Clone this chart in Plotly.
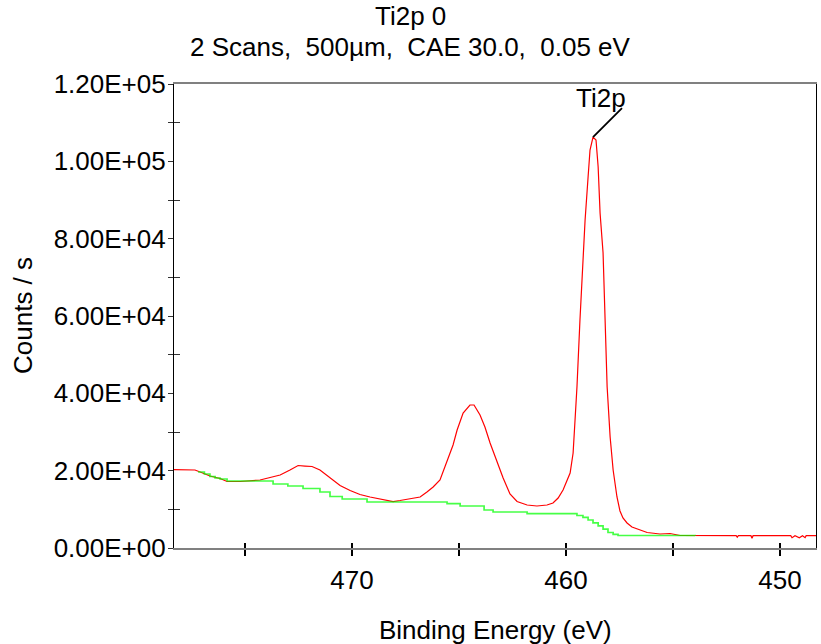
import plotly.graph_objects as go

# Ti2p region: measured spectrum (binding energy in eV, counts per second)
energy = [478.40, 478.32, 477.80, 477.34, 477.10, 476.87, 476.64, 476.17, 475.84, 475.23,
          474.77, 474.30, 473.83, 473.36, 472.90, 472.52, 472.20, 471.87, 471.50, 471.03,
          470.56, 470.09, 469.63, 469.16, 468.69, 468.08, 467.76, 467.29, 466.82, 466.50,
          466.21, 465.89, 465.56, 465.28, 465.09, 464.81, 464.49, 464.30, 464.02, 463.79,
          463.55, 463.22, 462.94, 462.62, 462.29, 461.82, 461.36, 460.89, 460.61, 460.37,
          460.14, 459.81, 459.67, 459.58, 459.49, 459.35, 459.21, 459.11, 458.97, 458.88,
          458.74, 458.60, 458.50, 458.41, 458.27, 458.18, 458.08, 457.94, 457.80, 457.62,
          457.48, 457.34, 457.15, 456.92, 456.68, 456.21, 455.61, 455.14, 454.67, 453.74,
          452.05, 452.00, 451.95, 451.36, 451.31, 451.26, 449.50, 449.44, 449.30, 449.10,
          448.95, 448.83, 448.78, 448.30]
counts = [20300, 20300, 20220, 20170, 19650, 19140, 18620, 17970, 17200, 17200,
          17330, 17580, 18230, 18880, 20170, 21330, 21200, 21080, 20170, 18100,
          16160, 14870, 13840, 13190, 12670, 12020, 12280, 12670, 13190, 14480,
          15770, 17580, 22240, 26640, 30510, 34910, 36980, 36980, 34390, 31290,
          27150, 21980, 18100, 13960, 12020, 11120, 10860, 11120, 11640, 12930,
          15000, 19400, 24570, 33100, 41630, 58960, 76290, 84820, 95940, 102920,
          106280, 105500, 98530, 86630, 76290, 58960, 41630, 28700, 20170, 13190,
          9570, 7760, 6470, 5430, 4910, 4010, 3620, 3750, 3230, 3180,
          3180, 2770, 3180, 3180, 2510, 3180, 3180, 2660, 3180, 2660,
          3180, 2660, 3180, 3180]

# Shirley-type background (step values)
bg_energy = [477.20, 476.90, 476.64, 476.40, 476.17, 475.84, 473.69, 473.00, 472.29, 471.50,
             471.03, 470.46, 469.30, 465.56, 464.95, 463.83, 463.41, 461.82, 459.49, 459.21,
             458.97, 458.74, 458.50, 458.27, 458.04, 457.80, 457.57, 453.97]
bg_counts = [19650, 19140, 18490, 18100, 17840, 17330, 16550, 16030, 15390, 14480,
             13320, 12670, 11900, 11500, 10860, 9830, 9310, 8870, 8400, 7900,
             7240, 6500, 5700, 4900, 4010, 3500, 3230, 3180]

peak_label = "Ti2p"
x_range = [478.32, 448.32]
y_range = [0, 120000]
x_major = [475, 470, 465, 460, 455, 450]
x_labels = ["", "470", "", "460", "", "450"]
y_major = [0, 20000, 40000, 60000, 80000, 100000, 120000]
y_minor = [10000, 30000, 50000, 70000, 90000, 110000]

FONT = "Liberation Sans, Arial, sans-serif"
FS = 26
TITLE_X = (410 - 174) / 642  # page centre expressed in plot-area fraction

fig = go.Figure()
fig.add_trace(go.Scatter(x=energy, y=counts, mode="lines",
                         line=dict(color="#ff0000", width=1.2), hoverinfo="skip"))
fig.add_trace(go.Scatter(x=bg_energy, y=bg_counts, mode="lines",
                         line=dict(color="#00ff00", width=1.7, shape="hv"),
                         opacity=0.72, hoverinfo="skip"))
# helper trace so the overlay axes (inner tick marks) get drawn
fig.add_trace(go.Scatter(x=[x_range[0]], y=[0], xaxis="x2", yaxis="y2",
                         mode="markers", marker=dict(opacity=0), hoverinfo="skip"))

# peak position taken from the data
ip = counts.index(max(counts))
peak_e, peak_c = energy[ip], counts[ip]

fig.update_layout(
    width=821, height=644,
    margin=dict(l=174, r=5, t=84, b=96),
    paper_bgcolor="white", plot_bgcolor="white",
    showlegend=False,
    font=dict(family=FONT, size=FS, color="black"),
    xaxis=dict(range=x_range, tickmode="array", tickvals=x_major, ticktext=x_labels,
               ticks="outside", ticklen=6, tickwidth=1.5, tickcolor="black",
               showline=True, linecolor="#808080", linewidth=2, mirror=True,
               showgrid=False, zeroline=False, ticklabelstandoff=2,
               tickfont=dict(family=FONT, size=FS)),
    yaxis=dict(range=y_range, tickmode="array", tickvals=y_major,
               ticktext=[f"{v:.2E}" for v in y_major],
               ticks="outside", ticklen=5, tickwidth=1.2, tickcolor="#333333",
               minor=dict(tickmode="array", tickvals=y_minor, ticks="outside",
                          ticklen=5, tickwidth=1.2, tickcolor="#333333"),
               showline=True, linecolor="black", linewidth=1.2, mirror=True,
               showgrid=False, zeroline=False, ticklabelstandoff=-3,
               tickfont=dict(family=FONT, size=FS)),
    xaxis2=dict(overlaying="x", matches="x", range=x_range, tickmode="array",
                tickvals=x_major, ticks="inside", ticklen=5, tickwidth=1.5,
                tickcolor="black", showticklabels=False, showline=False,
                showgrid=False, zeroline=False),
    yaxis2=dict(overlaying="y", matches="y", range=y_range, tickmode="array",
                tickvals=y_minor, ticks="inside", ticklen=6, tickwidth=1.2,
                tickcolor="#333333", showticklabels=False, showline=False,
                showgrid=False, zeroline=False),
)

annotations = [
    dict(text="Ti2p 0", xref="paper", yref="paper", x=TITLE_X, y=1, yanchor="middle",
         yshift=68, showarrow=False, font=dict(size=FS)),
    dict(text="2 Scans,  500\u00b5m,  CAE 30.0,  0.05 eV", xref="paper", yref="paper",
         x=TITLE_X, y=1, yanchor="middle", yshift=37, showarrow=False, font=dict(size=FS)),
    dict(text="Counts / s", xref="paper", yref="paper", x=0, y=0.5, xanchor="center",
         xshift=-151, textangle=-90, showarrow=False, font=dict(size=FS)),
    dict(text="Binding Energy (eV)", xref="paper", yref="paper", x=0.5, y=0,
         yanchor="bottom", yshift=-99, showarrow=False, font=dict(size=FS)),
    # leader line from the peak maximum
    dict(text=" ", x=peak_e, y=peak_c, xref="x", yref="y", showarrow=True,
         arrowhead=0, arrowwidth=1.8, arrowcolor="black", ax=34, ay=-34, standoff=0),
    dict(text=peak_label, x=peak_e, y=peak_c, xref="x", yref="y", showarrow=False,
         xshift=8, yshift=39, font=dict(size=FS)),
]
fig.update_layout(annotations=annotations)

fig.write_html("out.html")
